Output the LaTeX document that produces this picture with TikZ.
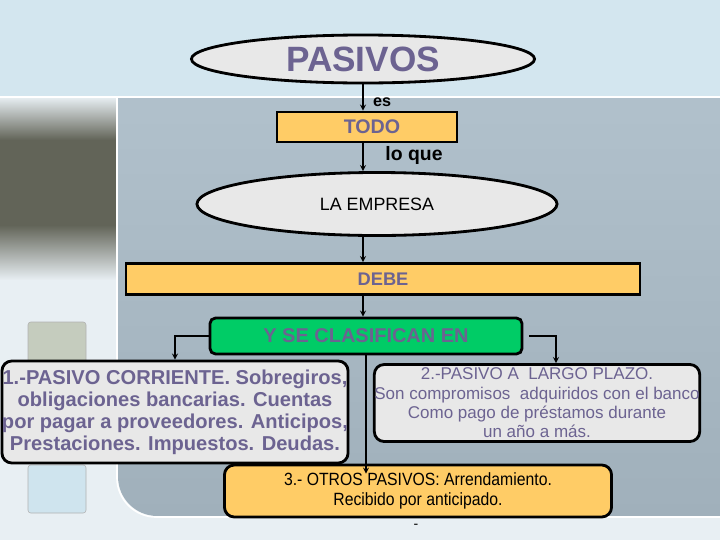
\documentclass[tikz,border=0pt]{standalone}
\usepackage{fontspec}
\setmainfont{Liberation Sans}
\newfontfamily\narrowfont{Liberation Sans}[FakeStretch=0.89]
\usetikzlibrary{shapes.geometric}
\definecolor{lila}{RGB}{108,99,145}
\definecolor{naranja}{RGB}{255,204,102}
\definecolor{verde}{RGB}{0,204,102}
\definecolor{gris}{RGB}{232,232,232}
\definecolor{cielo}{RGB}{211,230,239}
\definecolor{panelalto}{RGB}{178,194,205}
\definecolor{panelbajo}{RGB}{160,176,187}
\definecolor{claro}{RGB}{232,239,243}
\definecolor{oscuro}{RGB}{98,100,88}

\begin{document}
\begin{tikzpicture}[x=0.025cm,y=-0.025cm,
    oval/.style={ellipse,draw,line width=2pt,fill=gris,inner sep=0pt},
    barra/.style={rectangle,draw,line width=2pt,fill=naranja,inner sep=0pt},
    caja/.style={rectangle,rounded corners=7pt,draw,line width=2pt,inner sep=0pt,align=center},
    flecha/.style={->,>=stealth,line width=0.9pt}]
    \useasboundingbox (0,0) rectangle (720,540);
    \begin{scope}
        \clip (0,0) rectangle (720,540);
        \fill[claro] (0,0) rectangle (720,540);
        \shade[top color=claro,bottom color=oscuro] (0,97) rectangle (116,140);
        \fill[oscuro] (0,140) rectangle (116,225);
        \shade[top color=oscuro,bottom color=claro] (0,225) rectangle (116,280);
        \fill[rounded corners=2pt,fill={rgb,255:red,197;green,204;blue,190},draw=gray!60] (28,322) rectangle (86,385);
        \fill[rounded corners=2pt,fill={rgb,255:red,207;green,228;blue,238},draw=gray!60] (28,465) rectangle (86,513);
        \shade[top color=panelalto,bottom color=panelbajo,rounded corners=28pt]
            (118,60) -- (118,516) -- (760,516) -- (760,60) -- cycle;
        \draw[white,line width=1.2pt,rounded corners=28pt] (117,97) -- (117,517) -- (760,517);
        \fill[cielo] (0,0) rectangle (720,96);
        \draw[white,line width=1.2pt] (0,97) -- (720,97);
    \end{scope}

    \node[oval,minimum width=8.575cm,minimum height=1.2cm,text=lila,
        font=\fontsize{25}{25}\selectfont\bfseries] (pasivos) at (363,59) {PASIVOS};
    \node[barra,minimum width=4.5cm,minimum height=0.75cm,text=lila,
        font=\fontsize{14}{14}\selectfont\bfseries] (todo) at (367,127) {\hspace{0.25cm}TODO};
    \node[oval,minimum width=9cm,minimum height=1.575cm,
        font=\fontsize{12.7}{12.7}\selectfont] (empresa) at (377,204) {LA EMPRESA};
    \node[barra,minimum width=12.85cm,minimum height=0.775cm,text=lila,
        font=\fontsize{13}{13}\selectfont\bfseries] (debe) at (383,279) {DEBE};
    \node[caja,rounded corners=4pt,fill=verde,minimum width=7.8cm,minimum height=0.9cm,text=lila,
        font=\fontsize{14.2}{14.2}\selectfont\bfseries] (clas) at (366,336) {Y SE CLASIFICAN EN};
    \node[caja,fill=gris,minimum width=8.65cm,minimum height=2.55cm,text=lila,
        font=\fontsize{14.3}{15.6}\selectfont\bfseries] (corriente) at (175,412)
        {1.-PASIVO CORRIENTE. Sobregiros,\\obligaciones bancarias. Cuentas\\
         por pagar a proveedores. Anticipos,\\Prestaciones. Impuestos. Deudas.};
    \node[caja,fill=gris,minimum width=7.675cm,minimum height=1.925cm,text=lila,
        font=\fontsize{12.1}{13.7}\selectfont] (largo) at (537,403)
        {2.-PASIVO A\ \ LARGO PLAZO.\\Son compromisos\ \ adquiridos con el banco\\
         Como pago de préstamos durante\\un año a más.};
    \node[caja,fill=naranja,minimum width=9.675cm,minimum height=1.3cm,
        font=\fontsize{12.6}{14.2}\selectfont\narrowfont] (otros) at (418,491)
        {3.- OTROS PASIVOS: Arrendamiento.\\Recibido por anticipado.};
    \node[font=\fontsize{10}{10}\selectfont] (guion) at (416,526) {-};
    \node[font=\fontsize{11.5}{11.5}\selectfont\bfseries] (es) at (382,102) {es};
    \node[font=\fontsize{13.8}{13.8}\selectfont\bfseries] (loque) at (414,155) {lo que};
    \coordinate (caida) at (556,0);

    \draw[flecha] (pasivos.south) -- (pasivos.south |- todo.north);
    \draw[flecha] (todo.south -| pasivos.south) -- (empresa.north -| pasivos.south);
    \draw[flecha] (empresa.south -| pasivos.south) -- (debe.north -| pasivos.south);
    \draw[flecha] (debe.south -| pasivos.south) -- (clas.north -| pasivos.south);
    \draw[flecha] (clas.west) -| (corriente.north);
    \draw[flecha] ([xshift=0.15cm]clas.east) -| (caida |- largo.north);
    \draw[flecha,shorten >=-0.25cm] (clas.south) -- (clas.south |- otros.north);
\end{tikzpicture}
\end{document}
